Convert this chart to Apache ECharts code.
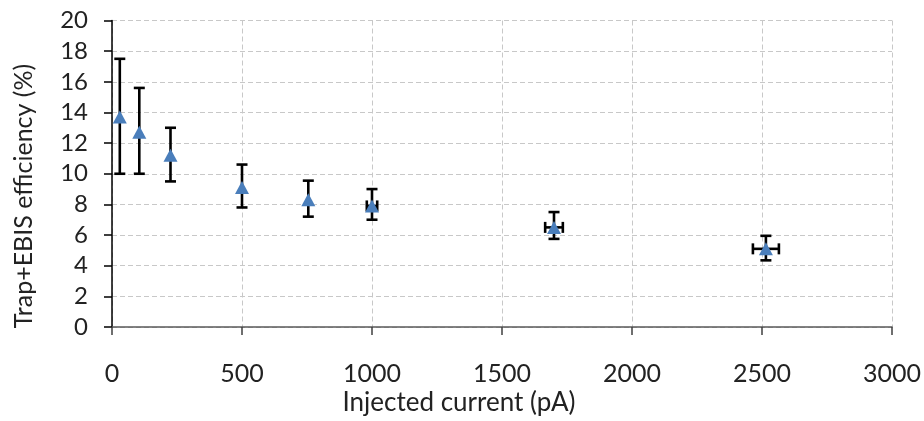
<!DOCTYPE html>
<html>
<head>
<meta charset="utf-8">
<script src="https://cdn.jsdelivr.net/npm/echarts@6/dist/echarts.min.js"></script>
<style>
  html, body { margin: 0; padding: 0; background: #fff; }
  #chart { width: 924px; height: 421px; }
</style>
</head>
<body>
<div id="chart"></div>
<script>
// Injected current (pA) and its uncertainty
const current = [30, 105, 225, 500, 755, 1000, 1700, 2515];
const currentErr = [0.6, 2, 4.5, 10, 15, 20, 34, 50];
// Trap+EBIS efficiency (%) with lower / upper error limits
const efficiency = [13.7, 12.7, 11.2, 9.1, 8.3, 7.9, 6.5, 5.1];
const effLow = [10.0, 10.0, 9.5, 7.8, 7.2, 7.0, 5.75, 4.35];
const effHigh = [17.5, 15.6, 13.0, 10.6, 9.55, 9.0, 7.5, 5.95];

const xTitle = 'Injected current (pA)';
const yTitle = 'Trap+EBIS efficiency (%)';

const FONT = 'Lato';
const CAP = 5.5;

const pointData = current.map((c, i) => [c, efficiency[i]]);
const errData = current.map((c, i) => [c, efficiency[i], effLow[i], effHigh[i], currentErr[i]]);

function renderErr(params, api) {
  const x = api.value(0), y = api.value(1);
  const lo = api.value(2), hi = api.value(3), xe = api.value(4);
  const pLo = api.coord([x, lo]);
  const pHi = api.coord([x, hi]);
  const style = { stroke: '#000', lineWidth: 2.6 };
  const children = [
    { type: 'line', shape: { x1: pLo[0], y1: pLo[1], x2: pHi[0], y2: pHi[1] }, style },
    { type: 'line', shape: { x1: pLo[0] - CAP, y1: pLo[1], x2: pLo[0] + CAP, y2: pLo[1] }, style },
    { type: 'line', shape: { x1: pHi[0] - CAP, y1: pHi[1], x2: pHi[0] + CAP, y2: pHi[1] }, style }
  ];
  const pL = api.coord([x - xe, y]);
  const pR = api.coord([x + xe, y]);
  if (pR[0] - pL[0] > 8) {
    children.push(
      { type: 'line', shape: { x1: pL[0], y1: pL[1], x2: pR[0], y2: pR[1] }, style },
      { type: 'line', shape: { x1: pL[0], y1: pL[1] - CAP, x2: pL[0], y2: pL[1] + CAP }, style },
      { type: 'line', shape: { x1: pR[0], y1: pR[1] - CAP, x2: pR[0], y2: pR[1] + CAP }, style }
    );
  }
  return { type: 'group', children };
}

const chart = echarts.init(document.getElementById('chart'), null, { renderer: 'canvas' });
chart.setOption({
  animation: false,
  backgroundColor: '#fff',
  textStyle: { fontFamily: FONT },
  grid: { left: 112, right: 29, top: 20.5, bottom: 94, containLabel: false },
  xAxis: {
    type: 'value',
    min: 0, max: 3000, interval: 500,
    axisLine: { show: true, onZero: false, lineStyle: { color: '#595959', width: 1.5 } },
    axisTick: { show: true, inside: false, length: 8, lineStyle: { color: '#404040', width: 1.5 } },
    axisLabel: { margin: 34, fontSize: 25, color: '#222', fontFamily: FONT, formatter: v => String(v) },
    splitLine: { show: true, lineStyle: { color: '#c8c8c8', type: [5, 3], width: 1 } }
  },
  yAxis: {
    type: 'value',
    min: 0, max: 20, interval: 2,
    axisLine: { show: true, onZero: false, lineStyle: { color: '#000', width: 1.5 } },
    axisTick: { show: true, inside: false, length: 8, lineStyle: { color: '#000', width: 1.5 } },
    axisLabel: { margin: 24, fontSize: 24, color: '#222', fontFamily: FONT },
    splitLine: { show: true, lineStyle: { color: '#c8c8c8', type: [5, 3], width: 1 } }
  },
  graphic: [
    {
      type: 'text', x: 459, y: 390,
      style: { text: xTitle, font: '26px ' + FONT, fill: '#222', align: 'center', verticalAlign: 'top' }
    },
    {
      type: 'text', x: 24, y: 196, rotation: Math.PI / 2,
      style: { text: yTitle, font: '25px ' + FONT, fill: '#222', align: 'center', verticalAlign: 'middle' }
    }
  ],
  series: [
    {
      type: 'custom',
      renderItem: renderErr,
      data: errData,
      encode: { x: 0, y: 1 },
      z: 2,
      silent: true
    },
    {
      type: 'scatter',
      data: pointData,
      symbol: 'triangle',
      symbolSize: [14, 13],
      itemStyle: { color: '#4a7ebb', opacity: 1 },
      z: 3,
      silent: true
    }
  ]
});
</script>
</body>
</html>
